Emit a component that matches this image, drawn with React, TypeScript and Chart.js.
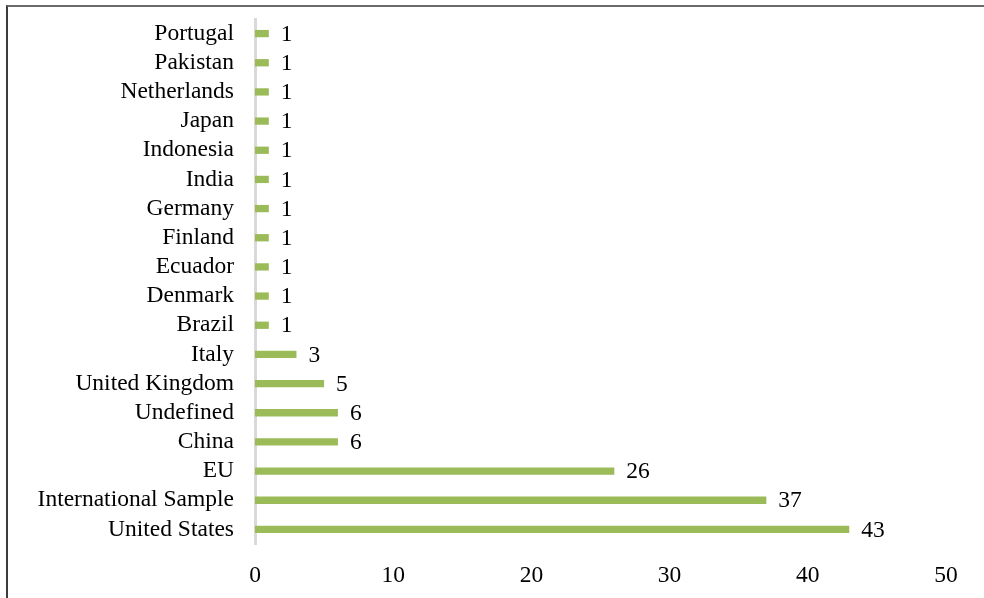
import React, { useEffect, useRef } from "react";
import { Chart, registerables } from "chart.js";

Chart.register(...registerables);

const categories: string[] = [
  "Portugal",
  "Pakistan",
  "Netherlands",
  "Japan",
  "Indonesia",
  "India",
  "Germany",
  "Finland",
  "Ecuador",
  "Denmark",
  "Brazil",
  "Italy",
  "United Kingdom",
  "Undefined",
  "China",
  "EU",
  "International Sample",
  "United States",
];

const counts: number[] = [1, 1, 1, 1, 1, 1, 1, 1, 1, 1, 1, 3, 5, 6, 6, 26, 37, 43];

const axisMin = 0;
const axisMax = 50;
const axisStep = 10;

const FONT_FAMILY = "'Liberation Serif', 'Times New Roman', serif";
const FONT_SIZE = 23.5;

const valueLabelPlugin = {
  id: "valueLabels",
  afterDatasetsDraw(chart: any) {
    const ctx = chart.ctx;
    const meta = chart.getDatasetMeta(0);
    const data = chart.data.datasets[0].data as number[];
    ctx.save();
    ctx.font = `${FONT_SIZE}px ${FONT_FAMILY}`;
    ctx.fillStyle = "#000";
    ctx.textAlign = "left";
    ctx.textBaseline = "middle";
    meta.data.forEach((bar: any, i: number) => {
      ctx.fillText(String(data[i]), bar.x + 12, bar.y + 1);
    });
    ctx.restore();
  },
};

export default function App() {
  const canvasRef = useRef<HTMLCanvasElement | null>(null);

  useEffect(() => {
    if (!canvasRef.current) return;
    const chart = new Chart(canvasRef.current, {
      type: "bar",
      data: {
        labels: categories,
        datasets: [
          {
            data: counts,
            backgroundColor: "#9BBB59",
            borderWidth: 0,
            categoryPercentage: 1,
            barPercentage: 0.25,
          },
        ],
      },
      options: {
        indexAxis: "y",
        animation: false,
        responsive: false,
        devicePixelRatio: 1,
        layout: { padding: { top: 19, right: 38, left: 0, bottom: 0 } },
        plugins: {
          legend: { display: false },
          tooltip: { enabled: false },
        },
        scales: {
          y: {
            type: "category",
            z: 1,
            grid: { display: false, drawTicks: false },
            border: { display: true, color: "#d9d9d9", width: 3 },
            ticks: {
              autoSkip: false,
              padding: 21,
              color: "#000",
              font: { family: FONT_FAMILY, size: FONT_SIZE },
            },
            afterFit(scale: any) {
              scale.width = 255;
              scale.paddingTop = 0;
              scale.paddingBottom = 0;
            },
          },
          x: {
            type: "linear",
            min: axisMin,
            max: axisMax,
            grid: { display: false, drawTicks: false },
            border: { display: false },
            ticks: {
              stepSize: axisStep,
              padding: 18,
              color: "#000",
              maxRotation: 0,
              autoSkip: false,
              font: { family: FONT_FAMILY, size: FONT_SIZE },
            },
            afterFit(scale: any) {
              scale.height = 54;
              scale.paddingLeft = 0;
              scale.paddingRight = 0;
            },
          },
        },
      },
      plugins: [valueLabelPlugin],
    });
    return () => chart.destroy();
  }, []);

  return (
    <div
      style={{
        position: "fixed",
        left: 0,
        top: 0,
        width: 984,
        height: 598,
        background: "#fff",
        overflow: "hidden",
      }}
    >
      <canvas
        ref={canvasRef}
        width={984}
        height={598}
        style={{ position: "absolute", left: 0, top: 0, width: 984, height: 598 }}
      />
      <div
        style={{
          position: "absolute",
          left: 6,
          top: 5,
          width: 990,
          height: 610,
          borderTop: "2px solid #6a6a6a",
          borderLeft: "2px solid #3c3c3c",
          pointerEvents: "none",
        }}
      />
    </div>
  );
}
